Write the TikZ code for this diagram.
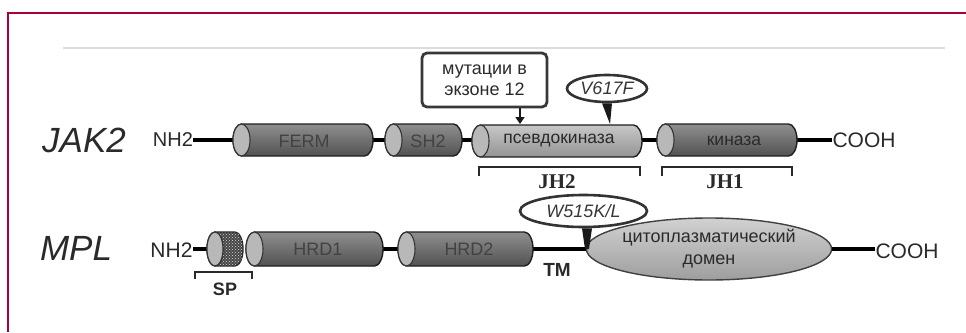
\documentclass[tikz,border=0pt]{standalone}
\usepackage{fontspec}
\setmainfont{Liberation Sans}
\newfontfamily\serifbf{Liberation Serif}
\usetikzlibrary{shapes.geometric,arrows.meta,patterns}
\definecolor{framered}{HTML}{A8003A}
\definecolor{txt}{HTML}{2A2A2A}
\newcommand{\fs}[1]{\fontsize{#1}{#1}\selectfont}
% name, x left, x right, y centre, half height, cap x radius, body style
\newcommand{\cylbody}[7]{%
  \pgfmathsetmacro{\cxa}{#2+#6}%
  \pgfmathsetmacro{\cxb}{#3-#6}%
  \pgfmathsetmacro{\cyt}{#4-#5}%
  \pgfmathsetmacro{\cyb}{#4+#5}%
  \path[#7] (\cxa,\cyt) -- (\cxb,\cyt)
     arc[start angle=90,end angle=-90,x radius=#6pt,y radius=#5pt]
     -- (\cxa,\cyb)
     arc[start angle=270,end angle=90,x radius=#6pt,y radius=#5pt] -- cycle;
  \draw[capface] (\cxa,#4) ellipse[x radius=#6pt,y radius=#5pt];
  \node[inner sep=0pt,minimum width={(#3-#2)*1pt},minimum height={2*#5*1pt}] (#1) at ({(#2+#3)/2},#4) {};%
}
\begin{document}
\begin{tikzpicture}[x=1pt,y=-1pt,
  link/.style={line width=4pt,black},
  darkbody/.style={draw=black!88,line width=1.4pt,top color=black!44,middle color=black!50,bottom color=black!68},
  lightbody/.style={draw=black!88,line width=1.4pt,top color=black!22,middle color=black!28,bottom color=black!42},
  capface/.style={draw=black!80,line width=1.1pt,fill=black!28},
  celltxt/.style={inner sep=0pt,text=black!74,font=\fs{18}},
  celltxtdark/.style={inner sep=0pt,text=txt,font=\fs{17.5}},
  endtxt/.style={inner sep=0pt,text=txt,font=\fs{20}},
  protein/.style={inner sep=0pt,text=txt,font=\fs{35}\itshape},
  domlbl/.style={inner sep=0pt,text=txt,font=\serifbf\bfseries\fs{21}},
  bracket/.style={line width=1.5pt,draw=txt},
  mutell/.style={ellipse,draw=black!80,line width=2.6pt,fill=white,inner sep=0pt,text=black!78,font=\fs{18}\itshape},
  wedge/.style={fill=black!90},
  ptr/.style={line width=2.6pt,black!90,-{Triangle[width=9pt,length=7pt]}}
]
\useasboundingbox (0,0) rectangle (966,332);
\fill[white] (0,0) rectangle (966,332);
% frame
\draw[framered,line width=2.6pt] (8,332) -- (8,13) -- (966,13);
\draw[black!14,line width=1.4pt] (63,48) -- (945,48);

% ---------- JAK2 ----------
\node[protein] (jak) at (84,140) {JAK2};
\node[endtxt] (nh2a) at (173,140) {NH2};
\node[endtxt,font=\fs{21}] (cooha) at (864,140) {COOH};
\coordinate (la) at (193,140);
\coordinate (ra) at (832,140);

\draw[link] (la) -- (240,140);
\draw[link] (370,140) -- (390,140);
\draw[link] (458,140) -- (478,140);
\draw[link] (638,140) -- (662,140);
\draw[link] (790,140) -- (ra);

\cylbody{ferm}{233}{373}{140}{16}{8.5}{darkbody}
\cylbody{sh2}{385}{462}{140}{16}{8.5}{darkbody}
\cylbody{pk}{472}{642}{141}{16}{8.5}{lightbody}
\cylbody{kin}{657}{797}{140}{16}{8.5}{darkbody}

\node[celltxt] (fermL) at (304,141) {FERM};
\node[celltxt] (sh2L) at (428,141) {SH2};
\node[celltxtdark] (pkL) at (559,141) {псевдокиназа};
\node[celltxtdark] (kinL) at (734,141) {киназа};

% brackets JH2 / JH1
\draw[bracket] (479,176) -- (479,167) -- (640,167) -- (640,176);
\draw[bracket] (662,176) -- (662,167) -- (792,167) -- (792,176);
\node[domlbl] (jh2) at (557,182) {JH2};
\node[domlbl] (jh1) at (725,182) {JH1};

% callout box
\node[draw=black!78,line width=2.8pt,rounded corners=5pt,fill=white,
      minimum width=125pt,minimum height=54pt,inner sep=0pt,align=center,
      text=txt,font=\fs{18}] (box) at (484.5,80) {мутации в\\[3pt]экзоне 12};
\coordinate (boxtip) at (520,124);
\draw[ptr] (boxtip |- box.south) -- (boxtip);

% V617F
\node[mutell,minimum width=80pt,minimum height=27pt] (v617) at (607,88.5) {V617F};
\coordinate (vtip) at (610,124);
\fill[wedge] ([xshift=-5pt]v617.south) -- ([xshift=5pt]v617.south) -- (vtip) -- cycle;

% ---------- MPL ----------
\node[protein] (mpl) at (76,248) {MPL};
\node[endtxt,font=\fs{21}] (nh2b) at (171.5,250) {NH2};
\coordinate (lb) at (193,249);

\draw[link] (lb) -- (212,249);
\draw[link] (378,249) -- (403,249);
\coordinate (tmend) at (600,249);
\draw[link] (528,249) -- (tmend);

% cytoplasmic domain
\node[ellipse,draw=black!75,line width=1.4pt,top color=black!18,bottom color=black!38,
      minimum width=238pt,minimum height=62pt,inner sep=0pt,align=center,
      text=txt,font=\fs{18}] (cyto) at (709,249) {цитоплазматический\\[4pt]домен};
\node[endtxt,font=\fs{21}] (coohb) at (907,251) {COOH};
\draw[link] (cyto.east) -- (coohb.west |- cyto.east);

% SP (hatched)
\cylbody{sp}{207}{243}{249}{17}{8}{draw=black!85,line width=1.3pt,fill=black!72,postaction={pattern=crosshatch dots,pattern color=black!15}}
\draw[capface] (215,249) ellipse[x radius=8pt,y radius=17pt];
\cylbody{hrd1}{246}{383}{249}{17}{8.5}{darkbody}
\cylbody{hrd2}{398}{533}{249}{17}{8.5}{darkbody}
\node[celltxt] (hrd1L) at (318,249) {HRD1};
\node[celltxt] (hrd2L) at (469,249) {HRD2};

\draw[bracket] (195,279) -- (195,272) -- (252,272) -- (252,279);
\node[inner sep=0pt,text=txt,font=\bfseries\fs{18}] (spL) at (225,289) {SP};
\node[inner sep=0pt,text=txt,font=\bfseries\fs{19}] (tm) at (557,270) {TM};

% W515K/L
\node[mutell,minimum width=127pt,minimum height=32pt] (w515) at (583.5,211) {W515K/L};
\coordinate (wtip) at (587,249);
\fill[wedge] ([xshift=-5pt]w515.south -| wtip) -- ([xshift=5pt]w515.south -| wtip) -- ([xshift=2pt]wtip) -- ([xshift=-2pt]wtip) -- cycle;
\end{tikzpicture}
\end{document}
